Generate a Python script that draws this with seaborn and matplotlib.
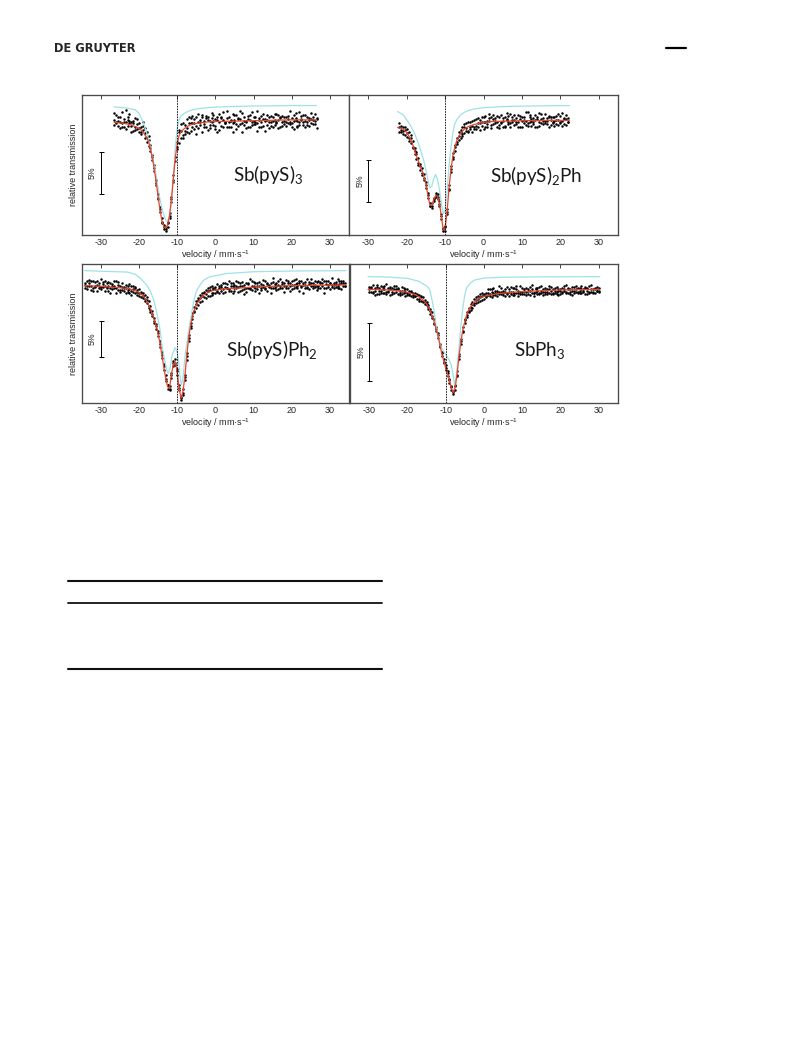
import matplotlib
matplotlib.use("Agg")
import matplotlib.pyplot as plt
from matplotlib.lines import Line2D
import pandas as pd
import seaborn as sns

# Espectros Mössbauer de 121Sb: quatro compostos

# Canais de velocidade (mm/s)
velocidade = [
    -34.0, -33.5, -33.0, -32.5, -32.0, -31.5, -31.0, -30.5, -30.0, -29.5,
    -29.0, -28.5, -28.0, -27.5, -27.0, -26.5, -26.0, -25.5, -25.0, -24.5,
    -24.0, -23.5, -23.0, -22.5, -22.0, -21.5, -21.0, -20.5, -20.0, -19.5,
    -19.0, -18.5, -18.0, -17.5, -17.0, -16.5, -16.0, -15.5, -15.0, -14.5,
    -14.0, -13.5, -13.0, -12.5, -12.0, -11.5, -11.0, -10.5, -10.0, -9.5,
    -9.0, -8.5, -8.0, -7.5, -7.0, -6.5, -6.0, -5.5, -5.0, -4.5,
    -4.0, -3.5, -3.0, -2.5, -2.0, -1.5, -1.0, -0.5, 0.0, 0.5,
    1.0, 1.5, 2.0, 2.5, 3.0, 3.5, 4.0, 4.5, 5.0, 5.5,
    6.0, 6.5, 7.0, 7.5, 8.0, 8.5, 9.0, 9.5, 10.0, 10.5,
    11.0, 11.5, 12.0, 12.5, 13.0, 13.5, 14.0, 14.5, 15.0, 15.5,
    16.0, 16.5, 17.0, 17.5, 18.0, 18.5, 19.0, 19.5, 20.0, 20.5,
    21.0, 21.5, 22.0, 22.5, 23.0, 23.5, 24.0, 24.5, 25.0, 25.5,
    26.0, 26.5, 27.0, 27.5, 28.0, 28.5, 29.0, 29.5, 30.0, 30.5,
    31.0, 31.5, 32.0, 32.5, 33.0, 33.5, 34.0,
]

# Faixa medida de cada amostra
faixa = {'p1': (-26.5, 26.5), 'p2': (-22.0, 22.0), 'p3': (-34.0, 34.0), 'p4': (-30.0, 30.0)}

nomes = ['Sb(pyS)$\\mathregular{_3}$', 'Sb(pyS)$\\mathregular{_2}$Ph',
         'Sb(pyS)Ph$\\mathregular{_2}$', 'SbPh$\\mathregular{_3}$']

# ---- Sb(pyS)3 ----
y1a = [98.3, 98.9, 97.6, 98.1, 99.2, 97.4, 98.0, 98.6, 97.9, 96.9,
       98.2, 97.1, 97.8, 96.8, 97.5, 97.6, 96.1, 96.9, 95.9, 94.6,
       94.1, 92.2, 91.1, 88.9, 87.7, 86.0, 85.8, 85.3, 85.6, 87.2,
       89.1, 90.9, 93.9, 95.1, 95.6, 97.8, 96.2, 97.0, 98.4, 96.7,
       97.9, 98.8, 97.2, 97.6, 99.0, 98.3, 96.9, 97.8, 98.5, 97.1,
       98.2, 99.1, 97.7, 98.4, 96.8, 98.0, 98.7, 97.5, 98.1, 99.3,
       97.4, 98.2, 97.9, 98.9, 97.2, 98.4, 97.8, 96.9, 98.6, 98.0,
       97.5, 98.3, 99.2, 97.8, 98.1, 97.0, 98.5, 98.8, 97.6, 98.2,
       98.9, 97.3, 98.0, 98.6, 97.7, 99.0, 98.3, 97.4, 98.1, 98.7,
       97.6, 98.4, 99.4, 97.9, 97.2, 98.5, 98.2, 97.7, 98.8, 98.0,
       97.5, 98.6, 98.3, 99.1, 97.8, 98.2, 97.3]
y1b = [97.7, 98.1, 98.6, 97.3, 97.9, 98.4, 99.5, 97.6, 98.2, 98.0,
       97.0, 98.5, 97.2, 97.9, 96.6, 97.1, 97.3, 95.7, 96.4, 95.3,
       93.5, 92.9, 90.6, 89.5, 87.3, 86.6, 85.3, 85.6, 86.1, 86.6,
       88.5, 91.7, 93.4, 95.7, 97.1, 96.1, 97.9, 96.6, 97.3, 98.6,
       97.0, 97.9, 98.4, 96.6, 98.1, 97.7, 98.9, 98.2, 97.4, 98.6,
       97.3, 98.0, 98.9, 97.6, 98.3, 97.1, 98.5, 99.2, 97.9, 97.4,
       98.7, 98.3, 96.9, 98.0, 98.9, 97.6, 98.4, 99.1, 97.7, 98.2,
       98.8, 97.4, 98.0, 98.6, 97.8, 99.3, 97.5, 98.1, 98.4, 97.0,
       98.3, 98.7, 97.6, 98.2, 99.0, 97.9, 97.3, 98.5, 98.8, 97.8,
       98.6, 97.9, 98.1, 97.4, 98.9, 98.3, 97.6, 99.2, 98.4, 97.7,
       98.9, 97.7, 98.5, 97.9, 98.3, 99.0, 98.4]
y1c = [99.1, 97.9, 98.2, 98.7, 97.5, 98.1, 97.2, 98.3, 99.0, 97.6,
       97.9, 97.4, 98.4, 97.3, 96.9, 98.0, 96.7, 96.3, 95.2, 95.0,
       93.9, 92.6, 90.8, 89.0, 87.9, 86.2, 85.5, 85.1, 86.0, 86.8,
       88.9, 91.2, 93.9, 94.8, 96.8, 97.0, 96.5, 97.7, 96.8, 97.9,
       98.5, 97.4, 97.9, 98.7, 97.3, 98.0, 98.6, 97.5, 98.8, 98.3,
       97.7, 98.5, 98.2, 97.2, 98.6, 99.0, 97.6, 98.3, 97.9, 98.5,
       98.1, 97.5, 99.0, 98.3, 97.8, 98.5, 99.3, 97.9, 98.2, 97.3,
       98.4, 98.9, 97.7, 98.2, 98.6, 97.9, 98.3, 97.5, 99.0, 98.4,
       97.7, 98.1, 98.8, 97.5, 98.3, 98.0, 98.9, 98.6, 97.6, 98.2,
       98.0, 98.8, 97.8, 98.5, 98.2, 99.1, 97.5, 98.0, 98.3, 98.9,
       98.2, 98.0, 97.6, 98.4, 98.7, 97.8, 98.5]
ajuste1_x = [-26.5, -24, -22, -20, -19, -18, -17.5, -17, -16.5, -16, -15.5, -15, -14.5,
             -14, -13.5, -13, -12.5, -12, -11.5, -11, -10.5, -10, -9.5, -9, -8, -7, -6,
             -4, -2, 0, 5, 10, 15, 20, 26.5]
ajuste1_y = [98.0, 97.9, 97.7, 97.3, 96.9, 96.2, 95.7, 94.9, 93.8, 92.5, 90.9, 89.2, 87.6,
             86.3, 85.6, 85.4, 85.8, 86.9, 88.8, 91.3, 93.7, 95.4, 96.4, 96.9, 97.3, 97.6, 97.8,
             97.95, 98.05, 98.1, 98.15, 98.2, 98.25, 98.3, 98.3]
comp1_x = [-26.5, -24, -22, -21, -20, -19.5, -19, -18.5, -18, -17.5, -17, -16.5, -16, -15.5,
           -15, -14.5, -14, -13.5, -13, -12.5, -12, -11.5, -11, -10.5, -10, -9.5, -9, -8, -7,
           -6, -4, -2, 0, 5, 10, 20, 26.5]
comp1_y = [99.85, 99.75, 99.6, 99.5, 99.1, 98.6, 98.1, 97.5, 96.8, 96.0, 95.1, 94.0, 92.9, 91.7,
           90.2, 88.9, 87.8, 87.0, 86.4, 86.2, 86.9, 88.6, 91.5, 94.9, 97.3, 98.3, 98.8, 99.1, 99.35,
           99.5, 99.65, 99.75, 99.82, 99.9, 99.95, 100.0, 100.0]

# ---- Sb(pyS)2Ph ----
y2a = [97.9, 96.8, 97.4, 97.1, 96.3, 96.9, 95.6, 95.8, 94.2, 94.5,
       92.9, 93.1, 91.7, 91.9, 90.2, 89.6, 88.4, 87.8, 89.0, 89.1,
       89.5, 88.1, 87.1, 85.1, 85.7, 87.1, 90.5, 92.1, 93.6, 95.3,
       95.4, 96.8, 96.2, 97.5, 96.7, 97.0, 98.1, 97.2, 96.9, 98.3,
       97.6, 98.5, 97.1, 98.0, 98.7, 97.4, 98.2, 99.0, 97.7, 98.4,
       97.9, 98.8, 97.3, 98.1, 98.5, 97.6, 99.1, 98.0, 97.5, 98.6,
       98.3, 97.8, 98.9, 97.4, 98.2, 98.6, 97.7, 99.2, 98.0, 97.6,
       98.5, 98.9, 97.5, 98.1, 98.4, 97.8, 99.0, 98.2, 97.4, 98.7,
       98.0, 97.6, 98.8, 98.3, 97.9, 99.1, 98.4, 97.7, 98.5]
y2b = [96.9, 97.6, 97.0, 96.5, 97.2, 95.8, 96.5, 95.1, 95.0, 93.7,
       93.8, 92.3, 92.6, 91.2, 90.9, 89.0, 88.0, 88.4, 88.6, 89.6,
       88.9, 88.7, 86.5, 85.4, 85.1, 87.7, 89.9, 92.8, 94.3, 94.6,
       96.2, 95.9, 97.1, 96.6, 97.8, 97.3, 96.8, 98.0, 97.6, 97.2,
       98.4, 97.5, 97.9, 98.6, 97.2, 98.1, 97.8, 98.5, 97.3, 98.9,
       98.2, 97.5, 98.6, 97.9, 97.4, 98.7, 98.3, 97.8, 99.0, 98.1,
       97.7, 98.5, 98.0, 98.8, 97.5, 98.3, 99.2, 97.9, 98.6, 98.2,
       97.8, 98.3, 98.7, 97.6, 99.0, 98.2, 97.9, 98.5, 98.8, 97.7,
       98.6, 98.2, 97.8, 99.0, 98.1, 97.6, 98.5, 98.9, 98.0]
y2c = [97.4, 97.1, 96.6, 97.5, 96.7, 96.2, 96.2, 94.9, 94.6, 94.2,
       93.2, 92.8, 92.0, 91.4, 90.5, 89.4, 88.1, 88.0, 88.9, 89.3,
       89.1, 88.3, 86.9, 85.3, 85.5, 87.3, 90.1, 92.5, 93.9, 95.1,
       95.7, 96.4, 96.9, 96.4, 97.4, 97.9, 97.0, 97.4, 98.2, 97.5,
       97.2, 97.9, 98.3, 97.6, 98.0, 98.8, 97.5, 98.2, 98.6, 97.8,
       98.5, 98.0, 97.7, 98.9, 98.2, 97.4, 98.4, 98.8, 97.9, 98.3,
       98.9, 98.1, 97.5, 98.4, 98.7, 97.9, 98.2, 97.6, 98.9, 98.4,
       98.1, 97.5, 98.4, 99.1, 97.9, 98.5, 98.2, 97.8, 98.6, 98.3,
       97.9, 98.7, 98.3, 97.7, 98.8, 98.2, 97.8, 98.4, 98.1]
ajuste2_x = [-22.4, -21, -20, -19, -18.5, -18, -17.5, -17, -16.5, -16, -15.5, -15, -14.5, -14,
             -13.5, -13, -12.5, -12, -11.5, -11, -10.5, -10, -9.5, -9, -8.5, -8, -7.5, -7, -6,
             -5, -4, -2.5, 0, 2, 10, 22.4]
ajuste2_y = [97.4, 97.2, 96.8, 96.0, 95.4, 94.7, 94.0, 93.4, 92.7, 92.2, 91.5, 90.6, 89.3, 88.2,
             88.1, 88.8, 89.3, 89.2, 88.4, 86.8, 85.2, 85.4, 87.4, 90.2, 92.4, 94.0, 95.0, 95.8, 96.7,
             97.2, 97.5, 97.75, 98.0, 98.1, 98.2, 98.25]
comp2_x = [-22.4, -21, -20, -19, -18, -17, -16, -15.5, -15, -14.5, -14, -13.5, -13, -12.5, -12,
           -11.5, -11, -10.5, -10, -9.5, -9, -8.5, -8, -7.5, -7, -6, -5, -4, -2.5, 0, 6, 15, 22.4]
comp2_y = [99.3, 98.9, 98.3, 97.6, 96.7, 95.5, 94.1, 93.3, 92.3, 91.1, 90.2, 90.4, 91.3, 91.8, 91.2,
           90.0, 88.4, 87.1, 87.6, 89.8, 92.8, 95.0, 96.7, 97.8, 98.3, 98.9, 99.2, 99.4, 99.6, 99.75,
           99.9, 99.97, 100.0]

# ---- Sb(pyS)Ph2 ----
y3a = [98.2, 97.4, 98.7, 97.9, 97.1, 98.4, 98.0, 97.5, 98.9, 97.7,
       97.2, 98.3, 97.8, 96.9, 98.1, 97.6, 98.5, 97.3, 97.0, 98.2,
       97.7, 96.8, 97.9, 97.4, 96.6, 97.8, 96.9, 97.3, 96.4, 97.0,
       96.9, 95.7, 96.3, 94.8, 95.1, 93.6, 93.4, 91.8, 91.6, 89.3,
       88.6, 86.1, 85.3, 83.4, 83.8, 85.0, 87.3, 86.8, 86.2, 83.3,
       82.3, 82.6, 85.4, 87.5, 91.0, 91.9, 94.0, 94.2, 95.7, 95.2,
       96.6, 95.7, 97.0, 96.2, 97.6, 96.5, 97.9, 96.9, 97.4, 98.1,
       96.8, 97.7, 98.3, 97.0, 97.5, 98.6, 97.2, 96.9, 98.0, 97.6,
       98.4, 97.1, 97.8, 96.7, 98.2, 97.5, 98.8, 97.3, 97.9, 98.3,
       97.4, 96.9, 98.1, 97.7, 98.6, 97.2, 98.0, 97.5, 99.0, 97.8,
       97.3, 98.5, 97.9, 98.1, 97.0, 98.7, 97.6, 98.3, 97.4, 98.0,
       98.8, 97.5, 98.2, 97.9, 96.8, 98.4, 97.7, 98.1, 98.9, 97.6,
       98.0, 97.3, 98.6, 98.2, 97.8, 96.9, 98.5, 97.7, 98.3, 99.0,
       97.5, 98.1, 97.8, 98.6, 97.4, 98.3, 97.9]
y3b = [97.6, 98.5, 97.8, 97.3, 98.6, 97.9, 97.2, 98.3, 97.7, 98.1,
       98.6, 97.5, 97.1, 98.2, 97.4, 97.9, 96.9, 98.4, 97.8, 97.3,
       97.1, 98.0, 97.3, 96.9, 97.8, 97.0, 97.5, 96.6, 97.4, 96.3,
       96.2, 96.6, 95.4, 95.7, 94.2, 94.3, 92.7, 92.5, 90.8, 90.2,
       87.8, 86.9, 84.5, 84.0, 83.2, 85.7, 86.6, 87.6, 85.4, 83.9,
       81.9, 83.4, 84.7, 88.4, 90.1, 92.7, 93.2, 94.9, 94.8, 96.1,
       95.6, 96.8, 96.3, 97.3, 96.5, 97.7, 96.8, 97.5, 96.9, 97.0,
       97.8, 97.1, 96.9, 98.2, 97.6, 97.1, 98.3, 97.8, 97.2, 98.5,
       97.0, 97.9, 98.4, 97.4, 97.0, 98.1, 97.5, 98.6, 97.7, 97.2,
       98.3, 97.8, 97.3, 98.7, 97.5, 98.1, 97.9, 96.9, 98.4, 97.6,
       98.2, 97.4, 98.8, 97.6, 98.3, 97.9, 98.6, 97.2, 98.0, 98.7,
       97.7, 98.3, 97.1, 98.5, 98.0, 97.6, 98.8, 97.4, 98.2, 97.9,
       98.6, 97.9, 97.5, 98.4, 98.8, 97.6, 98.1, 98.5, 97.4, 98.0,
       98.3, 97.7, 98.8, 97.5, 98.2, 98.6, 97.8]
y3c = [98.0, 97.8, 98.3, 98.6, 97.5, 97.7, 98.5, 97.9, 97.4, 98.4,
       97.9, 97.7, 98.4, 97.5, 97.9, 98.5, 97.6, 98.0, 97.3, 97.7,
       97.5, 97.6, 97.0, 98.1, 97.1, 97.4, 97.7, 97.0, 96.8, 96.9,
       96.5, 96.0, 95.9, 95.1, 94.5, 93.9, 93.0, 92.2, 91.3, 89.7,
       88.1, 86.6, 84.8, 83.9, 83.4, 85.3, 87.0, 87.1, 85.9, 83.5,
       82.2, 82.9, 85.1, 88.0, 90.6, 92.3, 93.7, 94.4, 95.3, 95.9,
       96.1, 96.4, 96.8, 96.7, 97.2, 97.3, 96.6, 97.4, 97.7, 97.1,
       97.5, 98.0, 97.4, 97.7, 98.1, 97.4, 97.9, 98.2, 97.5, 97.8,
       97.7, 98.2, 97.3, 98.0, 97.6, 98.3, 97.4, 97.9, 98.4, 97.5,
       97.9, 98.4, 97.6, 98.0, 97.4, 98.3, 97.7, 98.2, 97.6, 98.1,
       97.8, 98.0, 97.5, 98.4, 97.9, 97.6, 98.2, 97.8, 98.6, 97.6,
       98.1, 97.8, 98.5, 97.7, 98.3, 98.0, 97.6, 98.4, 97.8, 98.2,
       97.7, 98.4, 97.9, 97.6, 98.2, 98.5, 97.6, 98.0, 98.2, 97.7,
       98.0, 98.4, 97.6, 98.1, 98.5, 97.9, 98.2]
ajuste3_x = [-34.2, -30, -26, -23, -21, -20, -19, -18, -17, -16.5, -16, -15.5, -15, -14.5, -14,
             -13.5, -13, -12.5, -12, -11.5, -11, -10.5, -10, -9.5, -9, -8.5, -8, -7.5, -7, -6.5,
             -6, -5.5, -5, -4, -3, -2, -1, 0, 3, 6, 11.6, 20, 34.2]
ajuste3_y = [97.9, 97.8, 97.65, 97.5, 97.2, 96.95, 96.5, 95.8, 94.7, 93.9, 93.1, 92.3, 91.2, 89.8,
             88.2, 86.5, 84.9, 83.7, 83.5, 85.4, 86.9, 87.2, 85.8, 83.6, 82.1, 83.0, 85.0, 88.0, 90.5,
             92.3, 93.6, 94.5, 95.2, 96.0, 96.6, 96.95, 97.15, 97.3, 97.45, 97.55, 97.75, 97.9, 98.0]
comp3_x = [-34.2, -23, -21, -19.6, -18, -17, -16, -15.25, -14.5, -14, -13.3, -12.6, -12.3, -11.8,
           -11.3, -10.5, -10, -9.6, -9.2, -8.9, -8.5, -7.9, -7.2, -6.6, -5.7, -5, -4, -3, -1.4,
           3, 10, 20, 34.2]
comp3_y = [100.0, 99.8, 99.5, 98.9, 98.0, 97.1, 95.7, 93.8, 91.8, 89.6, 87.5, 85.8, 85.6, 86.5,
           88.2, 89.2, 88.6, 87.2, 85.0, 84.0, 84.8, 88.2, 90.8, 92.8, 95.65, 97.1, 98.0, 98.7, 99.15,
           99.6, 99.85, 99.95, 100.0]

# ---- SbPh3 ----
y4a = [99.1, 98.7, 99.3, 98.8, 98.5, 99.0, 99.2, 98.6, 98.9, 99.4,
       98.7, 98.4, 99.0, 98.9, 99.2, 98.5, 98.8, 99.1, 98.6, 98.3,
       98.9, 98.4, 98.7, 98.2, 98.6, 98.5, 97.9, 98.3, 97.8, 98.0,
       97.5, 97.5, 96.8, 96.9, 95.9, 95.6, 94.7, 94.2, 93.1, 92.9,
       91.9, 91.8, 90.8, 90.5, 89.8, 90.6, 91.4, 93.3, 94.2, 95.6,
       96.0, 96.9, 96.9, 97.6, 97.3, 98.1, 97.7, 98.3, 97.9, 98.6,
       98.1, 98.6, 98.9, 98.3, 98.7, 99.0, 98.4, 98.6, 99.2, 98.5,
       98.8, 98.3, 99.1, 98.7, 98.5, 99.0, 98.6, 98.9, 98.3, 99.2,
       98.7, 98.5, 99.0, 98.8, 98.4, 99.3, 98.6, 98.9, 98.5, 99.1,
       98.8, 98.4, 99.0, 98.7, 99.2, 98.5, 98.9, 98.6, 99.1, 98.8,
       98.5, 99.0, 98.8, 99.3, 98.6, 98.9, 98.4, 99.1, 98.7, 99.0,
       98.6, 99.2, 98.8, 98.5, 99.0, 98.7, 99.3, 98.6, 98.9, 99.1,
       98.7]
y4b = [98.7, 99.1, 98.6, 99.0, 99.3, 98.5, 98.8, 99.1, 98.6, 98.7,
       99.0, 98.9, 98.5, 99.2, 98.7, 98.9, 98.4, 98.8, 99.0, 98.9,
       98.4, 98.8, 98.3, 98.6, 98.3, 98.1, 98.4, 97.9, 98.2, 97.6,
       97.8, 97.2, 97.2, 96.4, 96.3, 95.3, 95.1, 93.9, 93.5, 92.5,
       92.3, 91.4, 91.1, 90.2, 90.1, 90.2, 91.8, 92.9, 94.6, 95.2,
       96.3, 96.5, 97.3, 97.1, 97.8, 97.5, 98.2, 97.8, 98.5, 98.0,
       98.5, 98.2, 98.4, 98.9, 98.2, 98.6, 98.8, 98.3, 98.7, 99.0,
       98.4, 98.9, 98.6, 98.3, 99.1, 98.7, 98.4, 99.2, 98.6, 98.5,
       99.0, 98.8, 98.4, 98.9, 99.1, 98.6, 98.3, 99.0, 98.8, 98.5,
       99.2, 98.7, 98.5, 98.9, 98.6, 99.1, 98.5, 99.0, 98.7, 98.4,
       98.9, 98.7, 99.2, 98.6, 98.9, 98.5, 99.1, 98.8, 99.2, 98.6,
       99.0, 98.6, 98.9, 99.1, 98.5, 99.2, 98.7, 98.9, 98.6, 98.8,
       99.0]
y4c = [98.9, 99.0, 98.7, 98.4, 99.1, 98.8, 98.6, 98.9, 99.2, 98.5,
       98.8, 99.1, 98.7, 98.6, 98.9, 99.0, 98.6, 98.5, 98.8, 98.7,
       98.6, 98.5, 98.8, 98.4, 98.3, 98.4, 98.1, 98.2, 97.9, 97.8,
       97.6, 97.4, 97.0, 96.6, 96.0, 95.5, 94.9, 94.0, 93.4, 92.6,
       92.1, 91.6, 91.0, 90.4, 90.0, 90.5, 91.5, 93.1, 94.4, 95.3,
       96.2, 96.7, 97.0, 97.4, 97.6, 97.7, 98.0, 98.1, 98.2, 98.3,
       98.4, 98.3, 98.6, 98.5, 98.9, 98.4, 98.6, 98.8, 98.5, 98.7,
       98.6, 98.7, 98.5, 98.9, 98.7, 98.4, 99.0, 98.6, 98.8, 98.7,
       98.5, 98.9, 98.7, 98.5, 98.8, 98.9, 98.6, 98.7, 99.0, 98.6,
       98.6, 98.9, 98.7, 98.5, 98.9, 98.8, 98.6, 98.8, 98.5, 98.9,
       98.8, 98.6, 98.9, 98.7, 99.0, 98.7, 98.8, 98.6, 98.9, 98.7,
       98.8, 98.9, 98.7, 99.0, 98.8, 98.6, 98.9, 98.7, 99.0, 98.8,
       98.8]
ajuste4_x = [-30.3, -25, -22, -20, -18, -17, -16, -15, -14.5, -14, -13.5, -13, -12.5, -12, -11.5,
             -11, -10.5, -10, -9.5, -9, -8.5, -8, -7.5, -7, -6.5, -6, -5.5, -5, -4.5, -4, -3, -2,
             -1, 0, 3, 6, 10, 20, 30.3]
ajuste4_y = [98.9, 98.85, 98.75, 98.65, 98.45, 98.25, 98.0, 97.65, 97.35, 97.0, 96.6, 96.1, 95.5,
             94.9, 94.1, 93.3, 92.7, 92.1, 91.6, 91.0, 90.3, 89.95, 90.4, 91.6, 93.1, 94.4, 95.4, 96.1,
             96.7, 97.1, 97.6, 97.95, 98.15, 98.3, 98.5, 98.6, 98.7, 98.85, 98.9]
comp4_x = [-30.3, -25, -20, -17, -16, -15, -14.2, -13.5, -13, -12.5, -12, -11.5, -11, -10.5, -10,
           -9.5, -9, -8.5, -8, -7.7, -7.3, -7, -6.5, -6, -5.5, -5, -4.5, -3.5, -2.5, 0, 5, 15, 30.3]
comp4_y = [100.0, 99.97, 99.85, 99.6, 99.4, 99.2, 98.9, 97.9, 96.9, 95.8, 94.9, 94.2, 93.8, 93.5,
           93.25, 93.0, 92.7, 92.3, 91.4, 90.6, 91.2, 92.2, 93.9, 95.8, 97.3, 98.4, 99.05, 99.45, 99.7,
           99.88, 99.95, 99.98, 100.0]

sns.set_theme(style='white')
plt.rcParams['font.family'] = ['Liberation Sans', 'DejaVu Sans']
plt.rcParams['axes.unicode_minus'] = False

fig = plt.figure(figsize=(7.93, 10.57), dpi=100)

# posições dos painéis (fração da figura)
caixas = [[0.1030, 0.7777, 0.3371, 0.1325], [0.4405, 0.7777, 0.3385, 0.1325],
          [0.1030, 0.6183, 0.3371, 0.1315], [0.4414, 0.6183, 0.3376, 0.1315]]
limites_y = [(84.6, 101.27), (84.6, 101.27), (81.37, 100.87), (89.0, 101.06)]
barra_5 = [92.0, 91.0, 90.45, 93.46]      # centro da barra de 5 %
texto_xy = [(4.7, 91.07), (1.7, 90.95), (2.7, 88.04), (7.8, 93.12)]

dados = [
    ('p1', [y1a, y1b, y1c], ajuste1_x, ajuste1_y, comp1_x, comp1_y),
    ('p2', [y2a, y2b, y2c], ajuste2_x, ajuste2_y, comp2_x, comp2_y),
    ('p3', [y3a, y3b, y3c], ajuste3_x, ajuste3_y, comp3_x, comp3_y),
    ('p4', [y4a, y4b, y4c], ajuste4_x, ajuste4_y, comp4_x, comp4_y),
]

for i, (chave, series, ax_x, ax_y, cx, cy) in enumerate(dados):
    ax = fig.add_axes(caixas[i])
    lo, hi = faixa[chave]
    v = [x for x in velocidade if lo <= x <= hi]
    vv, tt = [], []
    for ys in series:
        n = min(len(v), len(ys))
        vv += v[:n]
        tt += ys[:n]
    pontos = pd.DataFrame({'v': vv, 't': tt})

    sns.lineplot(x=cx, y=cy, ax=ax, color='#9fe2e4', lw=0.9, sort=False, estimator=None)
    sns.scatterplot(data=pontos, x='v', y='t', ax=ax, s=3.2, color='black', linewidth=0)
    sns.lineplot(x=ax_x, y=ax_y, ax=ax, color='#e8452c', lw=0.9, sort=False, estimator=None)

    ax.axvline(-10, color='black', lw=0.6, ls=(0, (2, 1.2)))
    ax.errorbar([-30], [barra_5[i]], yerr=[2.5], color='black', lw=0.7, capsize=1.8, capthick=0.7)
    ax.text(-32.2, barra_5[i], '5%', rotation=90, ha='center', va='center', fontsize=6.3)
    ax.text(texto_xy[i][0], texto_xy[i][1], nomes[i], family=['Lato', 'DejaVu Sans'],
            fontsize=13.5, ha='left', va='baseline', color='#1a1a1a')

    ax.set_xlim(-35, 35)
    ax.set_ylim(*limites_y[i])
    ax.set_xticks([-30, -20, -10, 0, 10, 20, 30])
    ax.set_yticks([])
    ax.tick_params(axis='x', direction='in', top=True, length=3, width=0.7,
                   labelsize=6.5, pad=2, color='#444444')
    for s in ax.spines.values():
        s.set_color('#4a4a4a')
        s.set_linewidth(0.95)
    ax.set_xlabel('velocity / mm·s$\\mathregular{^{-1}}$', fontsize=6.5, labelpad=1)
    if i in (0, 2):
        ax.set_ylabel('relative transmission', fontsize=6.5, labelpad=3)
    else:
        ax.set_ylabel('')

# cabeçalho da página
fig.text(54 / 793, 1 - 48 / 1057, 'DE GRUYTER', fontsize=8.3, fontweight='bold',
         family='DejaVu Sans', va='center', ha='left')
fig.add_artist(Line2D([666 / 793, 686 / 793], [1 - 48 / 1057] * 2, lw=1.6, color='black'))

# filetes da tabela
for yy, lw in [(581, 1.5), (603.3, 1.3), (669, 1.5)]:
    fig.add_artist(Line2D([68.3 / 793, 382.3 / 793], [1 - yy / 1057] * 2, lw=lw, color='#111111'))

fig.savefig('out.png', dpi=100)
